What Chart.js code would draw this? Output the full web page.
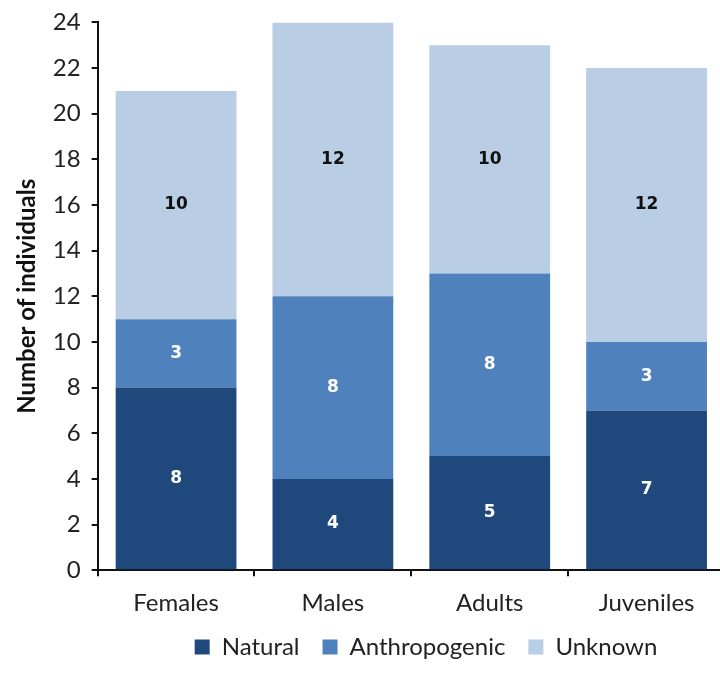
<!DOCTYPE html>
<html>
<head>
<meta charset="utf-8">
<script src="https://cdn.jsdelivr.net/npm/chart.js@4.4.1/dist/chart.umd.min.js"></script>
<style>
  html, body { margin: 0; padding: 0; background: #fff; overflow: hidden; }
  #wrap { position: relative; width: 844px; height: 687px; }
</style>
</head>
<body>
<div id="wrap"><canvas id="c" width="844" height="687"></canvas></div>
<script>
const categories = ['Females', 'Males', 'Adults', 'Juveniles'];
const natural = [8, 4, 5, 7];
const anthropogenic = [3, 8, 8, 3];
const unknown = [10, 12, 10, 12];
const seriesNames = ['Natural', 'Anthropogenic', 'Unknown'];
const yTicks = [0, 2, 4, 6, 8, 10, 12, 14, 16, 18, 20, 22, 24];

const FONT = 'Lato, "Open Sans", sans-serif';

// Legend block: shifted sideways / upward after layout, and given a tighter height
const LEGEND_SHIFT_X = 58;
const LEGEND_SHIFT_Y = -19;
const LEGEND_HEIGHT_TRIM = 6;

// Writes each segment's value in the middle of its bar
const segmentLabels = {
  id: 'segmentLabels',
  afterDatasetsDraw(chart) {
    const ctx = chart.ctx;
    ctx.save();
    ctx.font = 'bold 17px "DejaVu Sans", Verdana, sans-serif';
    ctx.textAlign = 'center';
    ctx.textBaseline = 'middle';
    chart.data.datasets.forEach((ds, i) => {
      const meta = chart.getDatasetMeta(i);
      meta.data.forEach((bar, j) => {
        const v = ds.data[j];
        const p = bar.getProps(['x', 'y', 'base'], true);
        ctx.fillStyle = ds.labelColor;
        ctx.fillText(String(v), p.x, (p.y + p.base) / 2);
      });
    });
    ctx.restore();
  }
};

const legendPlacement = {
  id: 'legendPlacement',
  beforeLayout(chart) {
    const lg = chart.legend;
    if (lg && !lg._trimmed) {
      const fit = lg.fit.bind(lg);
      lg.fit = function () { fit(); this.height -= LEGEND_HEIGHT_TRIM; };
      lg._trimmed = true;
    }
  },
  afterLayout(chart) {
    const lg = chart.legend;
    lg.left += LEGEND_SHIFT_X; lg.right += LEGEND_SHIFT_X;
    lg.top += LEGEND_SHIFT_Y; lg.bottom += LEGEND_SHIFT_Y;
  }
};

new Chart(document.getElementById('c'), {
  type: 'bar',
  data: {
    labels: categories,
    datasets: [
      { label: seriesNames[0], data: natural, backgroundColor: '#1f497d', labelColor: '#ffffff' },
      { label: seriesNames[1], data: anthropogenic, backgroundColor: '#4f81bd', labelColor: '#ffffff' },
      { label: seriesNames[2], data: unknown, backgroundColor: '#b9cde5', labelColor: '#111111' }
    ]
  },
  options: {
    responsive: false,
    animation: false,
    devicePixelRatio: 1,
    datasets: { bar: { categoryPercentage: 1, barPercentage: 0.77 } },
    layout: { padding: { left: 11, right: 119, top: 5, bottom: 5 } },
    plugins: {
      tooltip: { enabled: false },
      legend: {
        position: 'bottom',
        labels: {
          font: { family: FONT, size: 24 },
          color: '#222',
          boxWidth: 15,
          boxHeight: 15,
          padding: 23
        }
      }
    },
    scales: {
      x: {
        stacked: true,
        border: { color: '#111', width: 2 },
        grid: { display: true, offset: true, drawOnChartArea: false, drawTicks: true, tickLength: 6, color: '#111', lineWidth: 2 },
        ticks: { font: { family: FONT, size: 24 }, color: '#222', padding: 13 }
      },
      y: {
        stacked: true,
        min: 0,
        max: 24,
        afterBuildTicks(scale) { scale.ticks = yTicks.map(v => ({ value: v })); },
        border: { color: '#111', width: 2 },
        grid: { display: true, drawOnChartArea: false, drawTicks: true, tickLength: 6, color: '#111', lineWidth: 2 },
        ticks: { font: { family: FONT, size: 24, lineHeight: 0.95 }, color: '#222', padding: 11 },
        title: { display: true, text: 'Number of individuals', font: { family: FONT, size: 24, weight: 'bold' }, color: '#111', padding: { top: 2, bottom: 0 } }
      }
    }
  },
  plugins: [segmentLabels, legendPlacement]
});
</script>
</body>
</html>
